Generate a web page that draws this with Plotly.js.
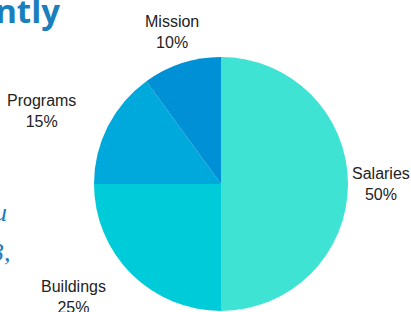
<!DOCTYPE html>
<html>
<head>
<meta charset="utf-8">
<script src="https://cdn.plot.ly/plotly-3.0.1.min.js"></script>
<style>html,body{margin:0;padding:0;background:#fff;}#chart{width:411px;height:312px;}</style>
</head>
<body>
<div id="chart"></div>
<script>
const categories = ["Salaries", "Buildings", "Programs", "Mission"];
const shares = [50, 25, 15, 10];
const sliceColors = ["#3fe3d4", "#00cbd9", "#00a9dc", "#0090d5"];

// Figure geometry (style, not data)
const W = 411, H = 312;
const CX = 221, CY = 184, R = 127;     // pie centre and radius in px
const LABEL_DIST = 160;                // label anchor distance from centre, px

const trace = {
  type: "pie",
  labels: categories,
  values: shares,
  sort: false,
  direction: "clockwise",
  rotation: 0,
  marker: {colors: sliceColors, line: {width: 0}},
  textinfo: "none",
  automargin: false,
  hoverinfo: "none",
  domain: {x: [(CX - R) / W, (CX + R) / W], y: [(H - CY - R) / H, (H - CY + R) / H]},
  showlegend: false
};

// Outside labels, positioned along each slice's mid-angle (derived from the values)
const total = shares.reduce((a, b) => a + b, 0);
let cum = 0;
const labelAnnotations = categories.map((name, i) => {
  const mid = (cum + shares[i] / 2) / total * 2 * Math.PI;
  cum += shares[i];
  const ux = Math.sin(mid), uy = -Math.cos(mid);
  const px = CX + LABEL_DIST * ux, py = CY + LABEL_DIST * uy;
  const pct = Math.round(shares[i] / total * 100);
  return {
    text: name + "<br>" + pct + "%",
    xref: "paper", yref: "paper",
    x: px / W, y: 1 - py / H,
    xanchor: ux < -0.5 ? "right" : "center",
    yanchor: "middle",
    align: "center",
    showarrow: false,
    font: {family: "Liberation Sans, Arial, sans-serif", size: 16, color: "#222"}
  };
});

const backdrop = [
  {text: "<b>Currently</b>", xref: "paper", yref: "paper", x: 62/W, y: 1 - 11/H,
   xanchor: "right", yanchor: "middle", showarrow: false,
   font: {family: "Open Sans, sans-serif", size: 33, color: "#1a7fbd"}},
  {text: "<i>u</i>", xref: "paper", yref: "paper", x: 9/W, y: 1 - 212/H,
   xanchor: "right", yanchor: "middle", showarrow: false,
   font: {family: "Liberation Serif, serif", size: 26, color: "#1a7fbd"}},
  {text: "<i>3,</i>", xref: "paper", yref: "paper", x: 13/W, y: 1 - 252/H,
   xanchor: "right", yanchor: "middle", showarrow: false,
   font: {family: "Liberation Serif, serif", size: 26, color: "#1a7fbd"}}
];

const layout = {
  width: W,
  height: H,
  margin: {l: 0, r: 0, t: 0, b: 0},
  paper_bgcolor: "#ffffff",
  plot_bgcolor: "#ffffff",
  showlegend: false,
  annotations: backdrop.concat(labelAnnotations)
};

Plotly.newPlot("chart", [trace], layout, {displayModeBar: false, staticPlot: true});
</script>
</body>
</html>
